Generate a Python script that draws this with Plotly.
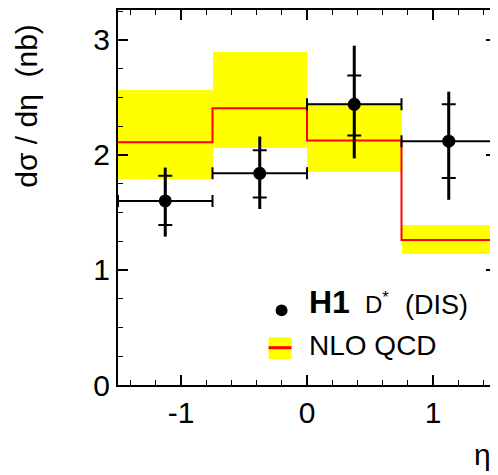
import plotly.graph_objects as go

# ---- data ----
bin_edges = [-1.5, -0.75, 0.0, 0.75, 1.5]
eta_centers = [-1.125, -0.375, 0.375, 1.125]
eta_halfwidth = [0.375, 0.375, 0.375, 0.375]

h1_xsec = [1.60, 1.84, 2.44, 2.12]
h1_stat_up = [0.22, 0.20, 0.25, 0.32]
h1_stat_dn = [0.21, 0.21, 0.27, 0.32]
h1_tot_up = [0.29, 0.32, 0.51, 0.43]
h1_tot_dn = [0.31, 0.31, 0.47, 0.51]

nlo_central = [2.11, 2.405, 2.125, 1.26]
nlo_low = [1.795, 2.06, 1.85, 1.14]
nlo_high = [2.565, 2.895, 2.45, 1.39]

x_tick_vals = [-1, 0, 1]
x_tick_text = ["-1", "0", "1"]
y_tick_vals = [0, 1, 2, 3]
y_tick_text = ["0", "1", "2", "3"]

FONT = "Liberation Sans, Arial, sans-serif"
YELLOW = "#ffff00"
RED = "#ff0000"

fig = go.Figure()

# NLO band
fig.add_trace(go.Bar(
    x=eta_centers,
    y=[h - l for h, l in zip(nlo_high, nlo_low)],
    base=nlo_low,
    width=[e2 - e1 for e1, e2 in zip(bin_edges[:-1], bin_edges[1:])],
    marker=dict(color=YELLOW, line=dict(width=0)),
    showlegend=False,
))

# NLO central step line
fig.add_trace(go.Scatter(
    x=bin_edges,
    y=nlo_central + [nlo_central[-1]],
    mode="lines",
    line=dict(color=RED, width=2, shape="hv"),
    showlegend=False,
))

# total error (no caps)
fig.add_trace(go.Scatter(
    x=eta_centers, y=h1_xsec, mode="markers",
    marker=dict(size=1, color="rgba(0,0,0,0)"),
    error_y=dict(type="data", symmetric=False, array=h1_tot_up, arrayminus=h1_tot_dn,
                 color="black", thickness=3, width=0),
    showlegend=False,
))

# data with stat error and bin width
fig.add_trace(go.Scatter(
    x=eta_centers, y=h1_xsec, mode="markers",
    marker=dict(size=13, color="black"),
    error_y=dict(type="data", symmetric=False, array=h1_stat_up, arrayminus=h1_stat_dn,
                 color="black", thickness=2, width=7),
    error_x=dict(type="data", array=eta_halfwidth, color="black", thickness=2, width=6),
    showlegend=False,
))

# page has an 8px body margin: lay out the figure so the plot sits where the reference has it
OFF = 8
W, H = 490, 467
L, R, T, B = 118 - OFF, 1, 8 - OFF, 90
pw, ph = W - L - R, H - T - B


def px(x):
    return (x - OFF - L) / pw


def py(y):
    return (H - B - (y - OFF)) / ph


axis_common = dict(
    showline=True, linecolor="black", linewidth=2, mirror="ticks",
    ticks="inside", ticklen=10, tickwidth=1.5, tickcolor="black",
    showgrid=False, zeroline=False,
    tickfont=dict(family=FONT, size=30, color="black"),
)

fig.update_xaxes(
    range=[-1.5, 1.5], tickvals=x_tick_vals, ticktext=x_tick_text,
    minor=dict(dtick=0.2, tick0=0, ticks="inside", ticklen=5, tickwidth=1, tickcolor="black"),
    **axis_common,
)
fig.update_yaxes(
    range=[0, 3.26], tickvals=y_tick_vals, ticktext=y_tick_text,
    minor=dict(dtick=0.25, tick0=0, ticks="inside", ticklen=5, tickwidth=1, tickcolor="black"),
    **axis_common,
)

annotations = [
    dict(text="dσ / dη  (nb)", x=px(26), y=py(104), textangle=-90,
         font=dict(family=FONT, size=30, color="black")),
    dict(text="η", x=px(483), y=py(455),
         font=dict(family=FONT, size=30, color="black")),
    dict(text="<b>H1</b>", x=px(307), y=py(302), xanchor="left",
         font=dict(family=FONT, size=32, color="black")),
    dict(text="D<sup>*</sup>", x=px(364), y=py(303), xanchor="left",
         font=dict(family=FONT, size=24, color="black")),
    dict(text="(DIS)", x=px(404), y=py(305), xanchor="left",
         font=dict(family=FONT, size=27, color="black")),
    dict(text="NLO QCD", x=px(307), y=py(345), xanchor="left",
         font=dict(family=FONT, size=28, color="black")),
]
for a in annotations:
    a.update(xref="paper", yref="paper", showarrow=False)
    a.setdefault("xanchor", "center")
    a.setdefault("yanchor", "middle")

shapes = [
    dict(type="rect", x0=px(269), x1=px(292), y0=py(359), y1=py(337),
         fillcolor=YELLOW, line=dict(width=0)),
    dict(type="line", x0=px(269), x1=px(292), y0=py(347.5), y1=py(347.5),
         line=dict(color=RED, width=3)),
    dict(type="circle", x0=px(276), x1=px(288), y0=py(316), y1=py(304),
         fillcolor="black", line=dict(width=0)),
]
for s in shapes:
    s.update(xref="paper", yref="paper")

fig.update_layout(
    width=W, height=H,
    margin=dict(l=L, r=R, t=T, b=B, pad=0),
    paper_bgcolor="white", plot_bgcolor="white",
    barmode="overlay", bargap=0,
    showlegend=False,
    annotations=annotations, shapes=shapes,
)

fig.write_html("out.html")
